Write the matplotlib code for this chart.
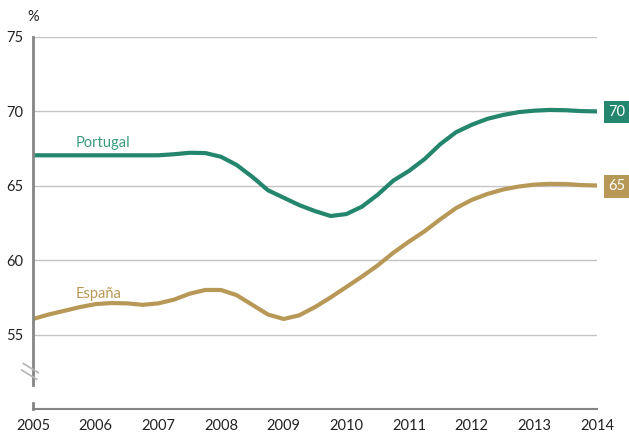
import matplotlib
matplotlib.use("Agg")
import matplotlib.pyplot as plt
from matplotlib.lines import Line2D

plt.rcParams['font.family'] = ['Lato', 'DejaVu Sans']

# Quarterly observations, 2005.00 .. 2014.00
years = [2005 + 0.25 * i for i in range(37)]
portugal = [67.05, 67.05, 67.05, 67.05, 67.05, 67.05, 67.05, 67.05,
            67.05, 67.12, 67.22, 67.20, 66.95, 66.40, 65.60, 64.70,
            64.20, 63.70, 63.30, 62.97, 63.10, 63.60, 64.40, 65.35,
            66.00, 66.80, 67.80, 68.60, 69.10, 69.50, 69.76, 69.95,
            70.05, 70.10, 70.08, 70.02, 70.00]
espana = [56.05, 56.35, 56.60, 56.85, 57.05, 57.12, 57.10, 57.00,
          57.10, 57.35, 57.75, 58.00, 58.00, 57.65, 57.00, 56.35,
          56.05, 56.30, 56.85, 57.50, 58.20, 58.90, 59.65, 60.50,
          61.25, 61.95, 62.75, 63.50, 64.05, 64.45, 64.75, 64.95,
          65.08, 65.13, 65.12, 65.05, 65.02]
end_labels = ["70", "65"]
series_names = ["Portugal", "España"]
x_ticks = list(range(2005, 2015))
y_ticks = [55, 60, 65, 70, 75]

teal = "#23866d"
gold = "#b89857"
teal_text = "#3a9a80"
grid_c = "#c4c4c4"
spine_c = "#858585"
text_c = "#222222"
fs = 10.5

fig = plt.figure(figsize=(6.29, 4.32), dpi=100)
ax = fig.add_axes([33 / 629, 1 - 409 / 432, (597 - 33) / 629, (409 - 37) / 432])
ax.set_xlim(2005, 2014)
ax.set_ylim(50, 75)

for v in y_ticks:
    ax.axhline(v, color=grid_c, lw=1.0, zorder=1)

ax.plot(years, portugal, color=teal, lw=3.0, solid_capstyle='round',
        solid_joinstyle='round', zorder=3)
ax.plot(years, espana, color=gold, lw=3.0, solid_capstyle='round',
        solid_joinstyle='round', zorder=3)

# series names
ax.text(2006.12, 67.85, series_names[0], color=teal_text, fontsize=fs,
        ha='center', va='center')
ax.text(2006.05, 57.75, series_names[1], color=gold, fontsize=fs,
        ha='center', va='center')

# end-value boxes
for val, lab, col in [(portugal[-1], end_labels[0], teal),
                      (espana[-1], end_labels[1], gold)]:
    ax.annotate(lab, xy=(2014, val), xytext=(14.5, -0.5), textcoords='offset points',
                ha='center', va='center', color='white', fontsize=fs,
                bbox=dict(boxstyle='square,pad=0.3', fc=col, ec='none'),
                annotation_clip=False)

for s in ['top', 'right']:
    ax.spines[s].set_visible(False)
ax.spines['left'].set_visible(False)
ax.spines['bottom'].set_color(spine_c)
ax.spines['bottom'].set_linewidth(1.5)

# left axis with a break between 50 and 55
ax.plot([2005, 2005], [75, 51.6], color=spine_c, lw=2.0, clip_on=False,
        zorder=4)
ax.plot([2005, 2005], [50.4, 50], color=spine_c, lw=2.0, clip_on=False,
        zorder=4)
for (x0, y0, x1, y1) in [(23.3, 363.5, 38.3, 372.7), (21.7, 370.0, 36.7, 379.3)]:
    fig.add_artist(Line2D([x0 / 629, x1 / 629], [1 - y0 / 432, 1 - y1 / 432],
                          color="#b5b5b5", lw=1.2, transform=fig.transFigure))

ax.set_xticks(x_ticks)
ax.set_xticklabels([str(x) for x in x_ticks])
ax.set_yticks(y_ticks)
ax.set_yticklabels([str(y) for y in y_ticks])
ax.tick_params(axis='both', length=0, labelsize=fs, colors=text_c)
ax.tick_params(axis='x', pad=7)
ax.tick_params(axis='y', pad=7)

fig.text(33 / 629, 1 - 17 / 432, "%", ha='center', va='center', fontsize=fs,
         color=text_c)

fig.savefig("out.png", dpi=100)
